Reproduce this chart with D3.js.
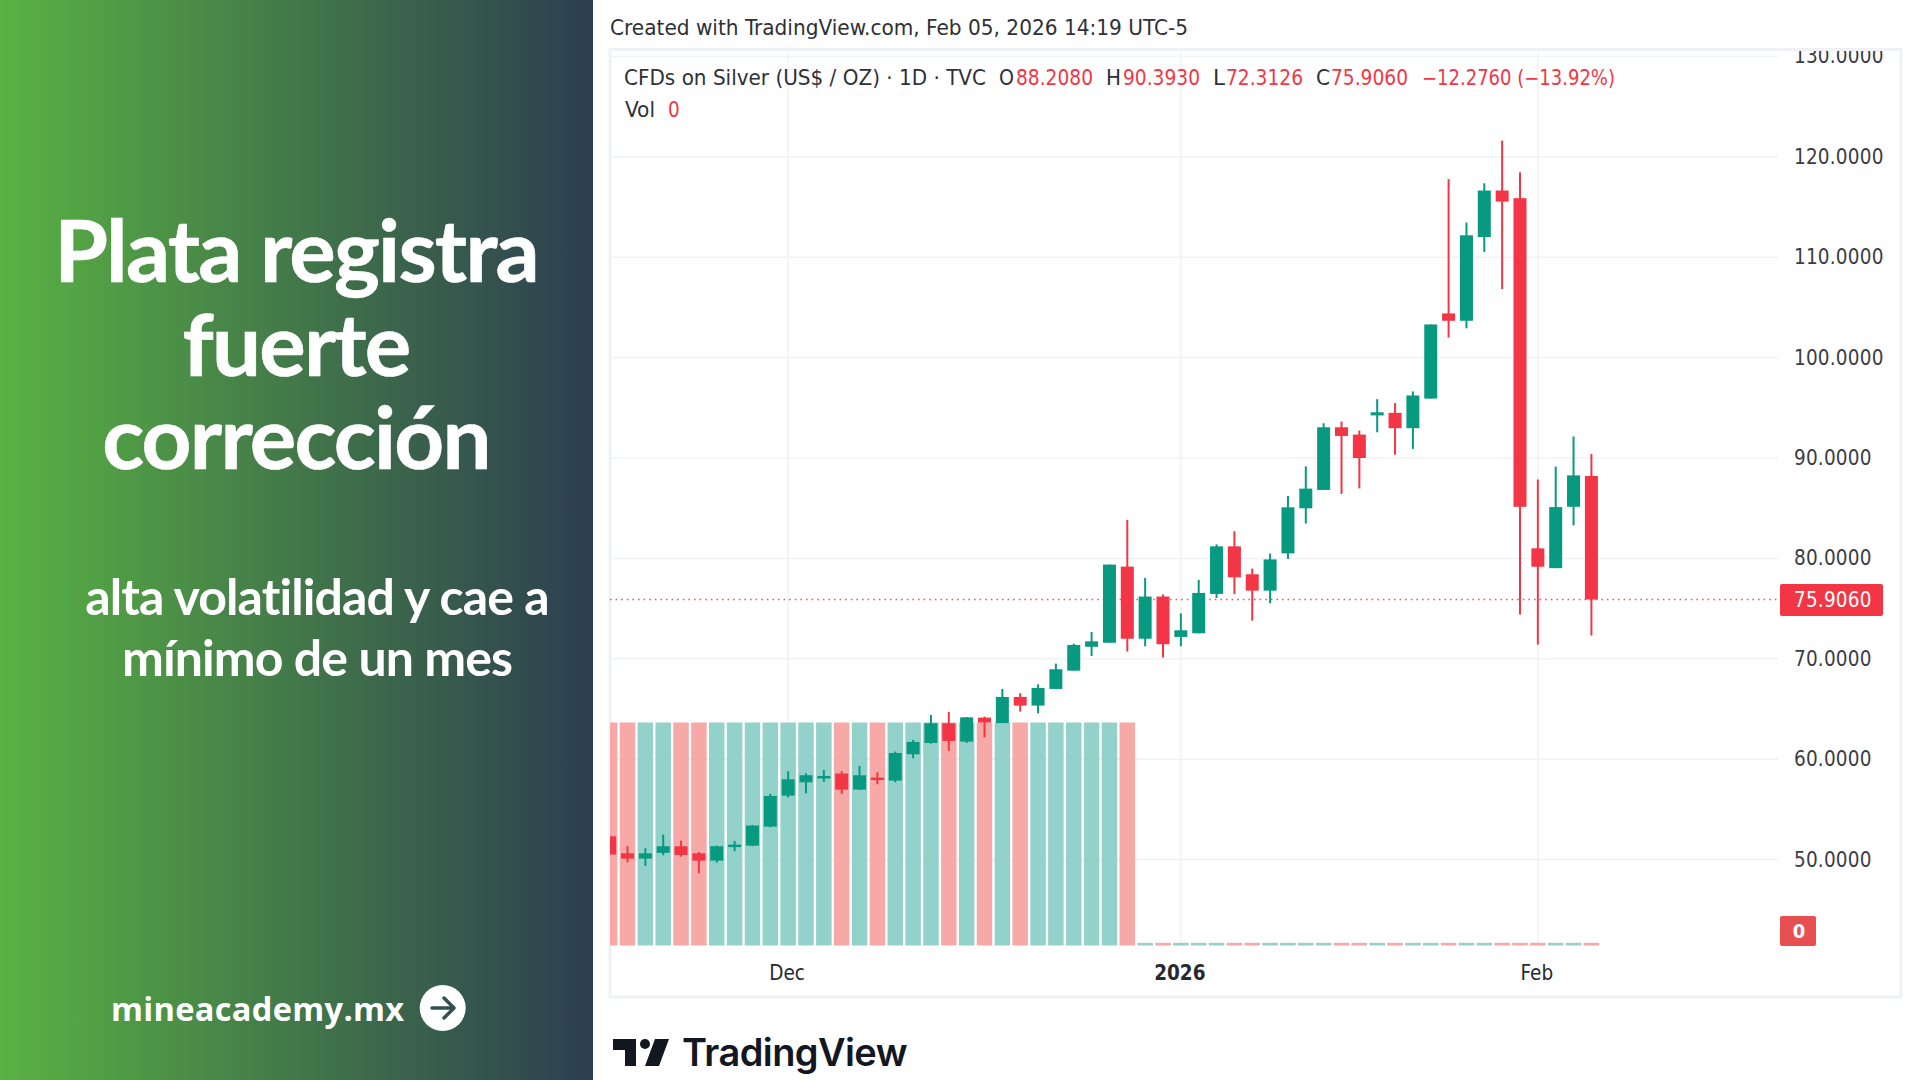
<!DOCTYPE html>
<html>
<head>
<meta charset="utf-8">
<script src="https://cdn.jsdelivr.net/npm/d3@7"></script>
<style>
html,body{margin:0;padding:0;background:#fff;overflow:hidden}
svg{display:block}
</style>
</head>
<body>
<svg id="c" width="1920" height="1080" xmlns="http://www.w3.org/2000/svg"></svg>
<script>
// ---------- data ----------
const opens  = [52.32,50.63,50.10,50.67,51.33,50.63,49.90,51.39,51.39,53.29,56.37,57.70,58.23,58.57,56.97,58.17,57.87,60.49,61.62,63.58,61.75,64.14,63.60,66.20,65.34,67.00,68.82,71.20,71.60,79.18,72.00,76.20,72.18,72.54,76.46,81.20,78.42,76.79,80.50,84.99,86.82,93.06,92.33,94.24,94.50,92.97,95.92,104.40,103.67,112.01,116.64,115.88,81.00,79.03,85.14,88.208];
const highs  = [52.32,51.33,51.13,52.49,51.89,50.76,51.40,51.86,53.45,56.54,58.80,58.60,58.93,58.80,59.33,58.70,60.76,61.92,64.41,64.71,64.20,64.24,67.00,66.57,67.46,69.52,71.50,72.67,79.38,83.83,78.06,76.40,74.53,77.86,81.40,82.70,78.98,80.48,86.22,89.17,93.46,93.63,92.73,95.86,95.47,96.63,103.30,117.77,113.45,117.36,121.61,118.46,87.86,89.15,92.14,90.393];
const lows   = [50.50,49.73,49.37,50.43,50.30,48.64,49.70,50.83,51.33,53.22,56.20,56.60,57.74,56.54,56.94,57.50,57.70,60.09,61.55,60.83,61.62,62.18,63.58,64.74,64.57,67.00,68.82,70.28,71.60,70.72,71.25,70.12,71.25,72.54,76.06,76.46,73.80,75.53,79.95,83.47,86.82,86.42,86.98,92.56,90.33,90.91,95.92,102.00,102.92,110.53,106.83,74.40,71.42,79.03,83.29,72.3126];
const closes = [50.50,50.10,50.63,51.33,50.46,49.90,51.33,51.49,53.39,56.34,58.00,58.40,58.33,56.97,58.40,58.07,60.62,61.72,63.58,61.82,64.17,63.65,66.20,65.34,67.10,68.96,71.38,71.74,79.38,72.00,76.20,71.45,72.84,76.56,81.20,78.12,76.79,79.90,85.09,86.95,93.06,92.20,90.00,94.55,92.97,96.23,103.30,103.67,112.18,116.64,115.54,85.14,79.17,85.11,88.27,75.906];
const volumes = [1,1,1,1,1,1,1,1,1,1,1,1,1,1,1,1,1,1,1,1,1,1,1,1,1,1,1,1,1,1,
  0.012,0.012,0.012,0.012,0.012,0.012,0.012,0.012,0.012,0.012,0.012,0.012,0.012,0.012,0.012,0.012,0.012,0.012,0.012,0.012,0.012,0.012,0.012,0.012,0.012,0.012];
// volume colour direction as drawn: 1 = teal, 0 = salmon
const volumeUp = [0,0,1,1,0,0,1,1,1,1,1,1,1,0,1,0,1,1,1,0,1,0,1,0,1,1,1,1,1,0,
  1,0,1,1,1,0,0,1,1,1,1,0,0,1,0,1,1,0,1,1,0,0,0,1,1,0];
const priceTicks = [50,60,70,80,90,100,110,120,130];
const timeTickIndex = [10,32,52];
const timeTickLabels = ["Dec","2026","Feb"];
const lastPrice = 75.906;

const titleLines = ["Plata registra","fuerte","corrección"];
const subLines = ["alta volatilidad y cae a","mínimo de un mes"];

// ---------- scales ----------
const GREEN="#089981", RED="#f23645";
const svg=d3.select("#c");
const x=d3.scaleLinear().domain([0,55]).range([609.65,1591.4]);
const y=d3.scaleLinear().domain([50,130]).range([859.6,56.4]);
const v=d3.scaleLinear().domain([0,1]).range([945.5,722.5]);
const idx=d3.range(opens.length);
const TVFONT="'DejaVu Sans Condensed','DejaVu Sans',sans-serif";

// ---------- left panel ----------
const defs=svg.append("defs");
const lg=defs.append("linearGradient").attr("id","panel").attr("x1",0).attr("x2",1).attr("y1",0).attr("y2",0);
lg.append("stop").attr("offset",0).attr("stop-color","#59b243");
lg.append("stop").attr("offset",1).attr("stop-color","#2c3e50");
defs.append("clipPath").attr("id","plot").append("rect").attr("x",610).attr("y",51).attr("width",1168).attr("height",895);
defs.append("clipPath").attr("id","axisclip").append("rect").attr("x",1778).attr("y",51).attr("width",122).attr("height",945);

svg.append("rect").attr("x",0).attr("y",0).attr("width",593).attr("height",1080).attr("fill","url(#panel)");

svg.append("g").selectAll("text").data(titleLines).join("text")
  .attr("x",296).attr("y",(d,i)=>282+i*93.5).attr("text-anchor","middle")
  .attr("font-family","Lato").attr("font-weight",700).attr("font-size",87).attr("letter-spacing",-1.8)
  .attr("fill","#fff").attr("stroke","#fff").attr("stroke-width",0.6).text(d=>d);
svg.append("g").selectAll("text").data(subLines).join("text")
  .attr("x",317).attr("y",(d,i)=>614.5+i*61.5).attr("text-anchor","middle")
  .attr("font-family","Lato").attr("font-weight",700).attr("font-size",50).attr("letter-spacing",-0.9)
  .attr("fill","#fff").text(d=>d);
svg.append("text").attr("x",111).attr("y",1021).attr("font-family","'Open Sans'").attr("font-weight",700)
  .attr("font-size",32.6).attr("letter-spacing",0.3).attr("fill","#fff").text("mineacademy.mx");
svg.append("circle").attr("cx",442.7).attr("cy",1008).attr("r",23).attr("fill","#fff");
svg.append("path").attr("d","M432 1008H453M444 998L454 1008L444 1018").attr("fill","none")
  .attr("stroke","#33504c").attr("stroke-width",3.4).attr("stroke-linecap","round").attr("stroke-linejoin","round");

// ---------- frame ----------
svg.append("rect").attr("x",610).attr("y",49.5).attr("width",1291).attr("height",947.5)
  .attr("fill","#fff").attr("stroke","#f0f1f4").attr("stroke-width",3);

// ---------- grid ----------
const grid=svg.append("g").attr("clip-path","url(#plot)");
grid.selectAll("line.h").data(priceTicks).join("line").attr("class","h")
  .attr("x1",610).attr("x2",1778).attr("y1",d=>y(d)).attr("y2",d=>y(d))
  .attr("stroke","#f1f2f5").attr("stroke-width",1.5);
grid.selectAll("line.w").data(timeTickIndex).join("line").attr("class","w")
  .attr("x1",d=>x(d)).attr("x2",d=>x(d)).attr("y1",51).attr("y2",945.5)
  .attr("stroke","#f1f2f5").attr("stroke-width",1.5);

// ---------- volume ----------
const plot=svg.append("g").attr("clip-path","url(#plot)");
plot.selectAll("rect.vol").data(idx).join("rect").attr("class","vol")
  .attr("x",i=>x(i)-7.75).attr("width",15.5)
  .attr("y",i=>v(volumes[i])).attr("height",i=>v(0)-v(volumes[i]))
  .attr("fill",i=>volumeUp[i]?"#92d2ca":"#f7a9a8");

// ---------- last price line ----------
plot.append("line").attr("x1",610).attr("x2",1778).attr("y1",y(lastPrice)).attr("y2",y(lastPrice))
  .attr("stroke",RED).attr("stroke-width",1.6).attr("stroke-dasharray","1.6 4").attr("opacity",.85);

// ---------- candles ----------
const col=i=>closes[i]>=opens[i]?GREEN:RED;
plot.selectAll("line.wick").data(idx).join("line").attr("class","wick")
  .attr("x1",i=>x(i)).attr("x2",i=>x(i)).attr("y1",i=>y(highs[i])).attr("y2",i=>y(lows[i]))
  .attr("stroke",col).attr("stroke-width",2);
plot.selectAll("rect.body").data(idx).join("rect").attr("class","body")
  .attr("x",i=>x(i)-6.5).attr("width",13)
  .attr("y",i=>y(Math.max(opens[i],closes[i])))
  .attr("height",i=>Math.max(2.5,Math.abs(y(opens[i])-y(closes[i]))))
  .attr("fill",col);

// ---------- axes ----------
const ay=svg.append("g").attr("clip-path","url(#axisclip)").append("g").attr("transform","translate(1794,0)")
  .call(d3.axisRight(y).tickValues(priceTicks).tickSize(0).tickPadding(0).tickFormat(d3.format(".4f")));
ay.select(".domain").remove();
ay.selectAll("text").attr("font-family",TVFONT).attr("font-size",20.5).attr("fill","#3a3d42").attr("letter-spacing",0.2);

const timeScale=d3.scaleOrdinal().domain(timeTickIndex).range(timeTickIndex.map(d=>x(d)-1.5));
const ax=svg.append("g").attr("transform","translate(0,964.5)")
  .call(d3.axisBottom(timeScale).tickValues(timeTickIndex).tickSize(0).tickPadding(0).tickFormat((d,i)=>timeTickLabels[i]));
ax.select(".domain").remove();
ax.selectAll("text").attr("font-family",TVFONT).attr("font-size",20.5).attr("fill","#26292e").attr("dy","0.75em")
  .attr("font-weight",d=>d===32?700:400);

// ---------- last price + volume tags ----------
svg.append("rect").attr("x",1780).attr("y",584).attr("width",103).attr("height",32).attr("rx",2).attr("fill",RED);
svg.append("text").attr("x",1794).attr("y",y(lastPrice)+7).attr("font-family",TVFONT)
  .attr("font-size",20.5).attr("letter-spacing",0.2).attr("fill","#fff").text(lastPrice.toFixed(4));
svg.append("rect").attr("x",1780).attr("y",916).attr("width",36).attr("height",30).attr("rx",2).attr("fill","#e84f50");
svg.append("text").attr("x",1799).attr("y",938).attr("text-anchor","middle").attr("font-family",TVFONT)
  .attr("font-size",20).attr("font-weight",700).attr("fill","#fff").text("0");

// ---------- header + legend ----------
function label(s,px,py,fill,len){
  const t=svg.append("text").attr("x",px).attr("y",py).attr("font-family",TVFONT).attr("font-size",20.5).attr("fill",fill).text(s);
  if(len) t.attr("textLength",len).attr("lengthAdjust","spacingAndGlyphs");
  return t;
}
label("Created with TradingView.com, Feb 05, 2026 14:19 UTC-5",610,35,"#2e3136",578);
label("CFDs on Silver (US$ / OZ) · 1D · TVC",624,85,"#2e3136",362);
label("O",999,85,"#2e3136",15);
label("88.2080",1016,85,RED,77);
label("H",1106,85,"#2e3136",15);
label("90.3930",1123,85,RED,77);
label("L",1213,85,"#2e3136",12);
label("72.3126",1226,85,RED,77);
label("C",1316,85,"#2e3136",14);
label("75.9060",1331,85,RED,77);
label("−12.2760 (−13.92%)",1422,85,RED,193);
label("Vol",625,117,"#2e3136",30);
label("0",668,117,RED);

// ---------- TradingView logo ----------
svg.append("path").attr("fill","#131722")
  .attr("d","M613 1039H636V1066H625V1050H613Z M669 1039L659 1066H645L655 1039Z");
svg.append("circle").attr("cx",645).attr("cy",1044).attr("r",5).attr("fill","#131722");
svg.append("text").attr("x",682).attr("y",1066).attr("font-family","Inter").attr("font-weight",600).attr("font-size",38)
  .attr("letter-spacing",-0.6).attr("fill","#131722").text("TradingView");
</script>
</body>
</html>
